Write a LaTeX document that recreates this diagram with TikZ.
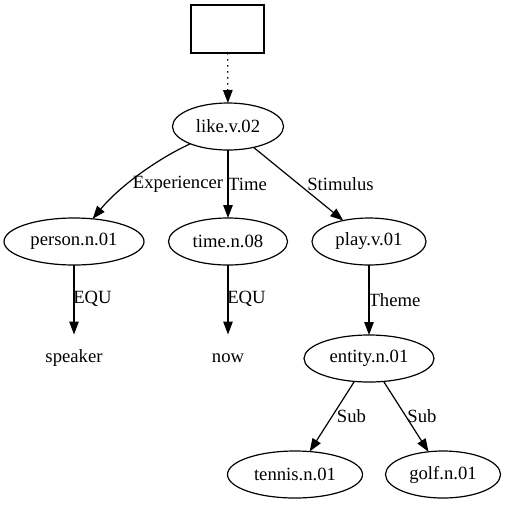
\documentclass[tikz,border=0pt]{standalone}
\usepackage{fontspec}
\setmainfont{Liberation Serif}
\usetikzlibrary{arrows.meta,shapes.geometric}
\begin{document}
\begin{tikzpicture}[x=1pt,y=-1pt,
  every node/.style={font=\fontsize{18.67}{22}\selectfont, inner sep=0pt, outer sep=0pt},
  ell/.style={draw, ellipse, line width=1.2pt, minimum height=47pt},
  plain/.style={minimum height=47pt, minimum width=60pt},
  boxnode/.style={draw, rectangle, line width=1.2pt, minimum width=73pt, minimum height=48pt},
  edge/.style={line width=1.2pt, -{Triangle[length=13pt,width=9.5pt]}},
  lbl/.style={}
]
\useasboundingbox (0,0) rectangle (505,504);
\node[boxnode] (top) at (227.5,29) {};
\node[ell, minimum width=111pt] (like) at (228,126.5) {like.v.02};
\node[ell, minimum width=140pt] (person) at (74,241.5) {person.n.01};
\node[ell, minimum width=119pt] (time) at (228,241.5) {time.n.08};
\node[ell, minimum width=114pt] (play) at (369,241.5) {play.v.01};
\node[plain] (speaker) at (74,358) {speaker};
\node[plain] (now) at (228,358) {now};
\node[ell, minimum width=130pt] (entity) at (369,358.5) {entity.n.01};
\node[ell, minimum width=135pt] (tennis) at (295,474.5) {tennis.n.01};
\node[ell, minimum width=115pt] (golf) at (443,474.5) {golf.n.01};

\draw[edge, dash pattern=on 1.5pt off 4.5pt] (top) -- (like);
\draw[edge] (like) .. controls (155,160) and (118,188) .. (person)
  node[lbl] at (178,184) {Experiencer};
\draw[edge] (like) -- (time) node[lbl] at (247.5,184) {Time};
\draw[edge] (like) -- (play) node[lbl] at (340.5,184) {Stimulus};
\draw[edge] (person) -- (speaker) node[lbl] at (92.5,299) {EQU};
\draw[edge] (time) -- (now) node[lbl] at (246.5,299) {EQU};
\draw[edge] (play) -- (entity) node[lbl] at (394.5,300) {Theme};
\draw[edge] (entity) -- (tennis) node[lbl] at (351.5,416) {Sub};
\draw[edge] (entity) -- (golf) node[lbl] at (422,416) {Sub};
\end{tikzpicture}
\end{document}
